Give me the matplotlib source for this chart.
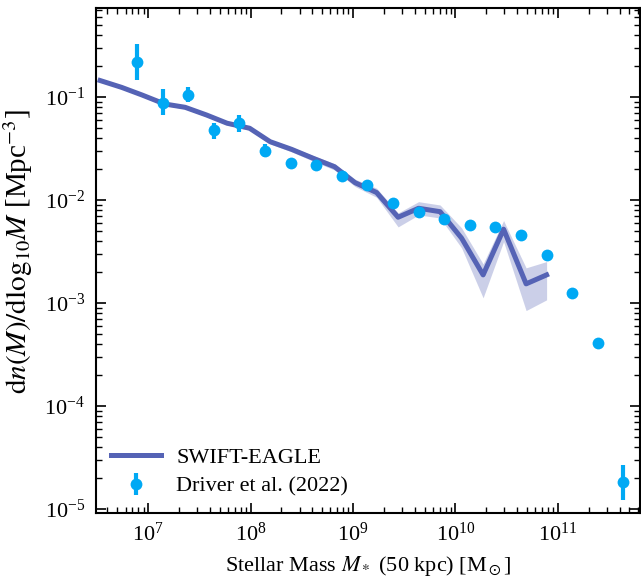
import numpy as np
import matplotlib
matplotlib.use("Agg")
import matplotlib.pyplot as plt

plt.rcParams["font.family"] = ["Liberation Serif", "DejaVu Serif"]
plt.rcParams["mathtext.fontset"] = "stix"
plt.rcParams["font.size"] = 16

# SWIFT-EAGLE median line + scatter band (log10 M, values in Mpc^-3)
sim_logm = [6.53, 6.74, 6.94, 7.16, 7.36, 7.57, 7.77, 7.99, 8.19, 8.40, 8.61,
            8.82, 9.02, 9.23, 9.44, 9.64, 9.85, 10.06, 10.27, 10.47, 10.69, 10.89]
sim_phi = [0.1445, 0.124, 0.1045, 0.0855, 0.0794, 0.0668, 0.0556, 0.0497, 0.0368,
           0.0310, 0.0254, 0.0210, 0.0147, 0.0118, 0.00679, 0.00830, 0.00769,
           0.00425, 0.00187, 0.00520, 0.00153, 0.00187]
sim_lo = [0.140, 0.120, 0.101, 0.0825, 0.0765, 0.0643, 0.0534, 0.0476, 0.0350,
          0.0293, 0.0238, 0.0195, 0.0135, 0.0106, 0.00547, 0.00715, 0.00668,
          0.00342, 0.00112, 0.00394, 0.000842, 0.00107]
sim_hi = [0.149, 0.128, 0.108, 0.0885, 0.0822, 0.0692, 0.0578, 0.0518, 0.0386,
          0.0327, 0.0270, 0.0225, 0.0159, 0.0130, 0.00748, 0.00962, 0.00893,
          0.00535, 0.00239, 0.00630, 0.00219, 0.00252]

# Driver et al. (2022)
obs_logm = [6.89, 7.14, 7.39, 7.64, 7.89, 8.14, 8.39, 8.64, 8.89, 9.14,
            9.39, 9.64, 9.89, 10.14, 10.39, 10.64, 10.89, 11.14, 11.39, 11.64]
obs_phi = [0.219, 0.0875, 0.105, 0.048, 0.056, 0.030, 0.0229, 0.0219, 0.0171,
           0.0140, 0.00935, 0.00764, 0.00654, 0.00572, 0.00547, 0.00457,
           0.00292, 0.00125, 0.000409, 1.83e-5]
obs_lo = [0.146, 0.0668, 0.0894, 0.039, 0.0457, 0.0261, 0.0215, 0.0207, 0.0162,
          0.0133, 0.0089, 0.0073, 0.0062, 0.0054, 0.0052, 0.0043,
          0.00276, 0.00117, 0.00038, 1.22e-5]
obs_hi = [0.327, 0.1196, 0.125, 0.056, 0.0668, 0.035, 0.0243, 0.0231, 0.0180,
          0.0147, 0.0098, 0.0080, 0.0069, 0.0060, 0.0058, 0.0048,
          0.00308, 0.00133, 0.00044, 2.67e-5]

line_col = "#5563b5"
obs_col = "#00a9f4"

fig = plt.figure(figsize=(6.41, 5.79), dpi=100)
ax = fig.add_axes([0.150, 0.114, 0.848, 0.872])

sim_m = 10 ** np.array(sim_logm)
ax.fill_between(sim_m, sim_lo, sim_hi, color=line_col, alpha=0.3, lw=0, zorder=2)
ax.plot(sim_m, sim_phi, color=line_col, lw=3.6, label="SWIFT-EAGLE", zorder=3)

obs_m = 10 ** np.array(obs_logm)
phi = np.array(obs_phi)
yerr = [phi - np.array(obs_lo), np.array(obs_hi) - phi]
ax.errorbar(obs_m, phi, yerr=yerr, fmt="o", color=obs_col, ms=8.5, elinewidth=3,
            capsize=0, mec="none", label="Driver et al. (2022)", zorder=4)

ax.set_xscale("log")
ax.set_yscale("log")
ax.set_xlim(3.1e6, 6.3e11)
ax.set_ylim(9.1e-6, 0.73)

ax.tick_params(which="both", direction="in", top=True, right=True, labelsize=16)
ax.tick_params(which="major", length=7, width=1.2)
ax.tick_params(which="minor", length=4, width=1.0)
ax.tick_params(axis="y", which="major", pad=8)
ax.tick_params(axis="x", which="major", pad=7)
for s in ax.spines.values():
    s.set_linewidth(1.5)

ax.set_xlabel(r"Stellar Mass $M_*$ (50 kpc) [M$_\odot$]", fontsize=16, labelpad=6)
ax.set_ylabel(r"$\mathrm{d}n(M)/\mathrm{dlog}_{10}M$ [Mpc$^{-3}$]", fontsize=21)
ax.yaxis.set_label_coords(-0.112, 0.518)

ax.legend(loc="lower left", frameon=False, fontsize=16, handlelength=2.25,
          handletextpad=0.7, labelspacing=0.35, bbox_to_anchor=(-0.01, -0.007))

fig.savefig("out.png", dpi=100)
